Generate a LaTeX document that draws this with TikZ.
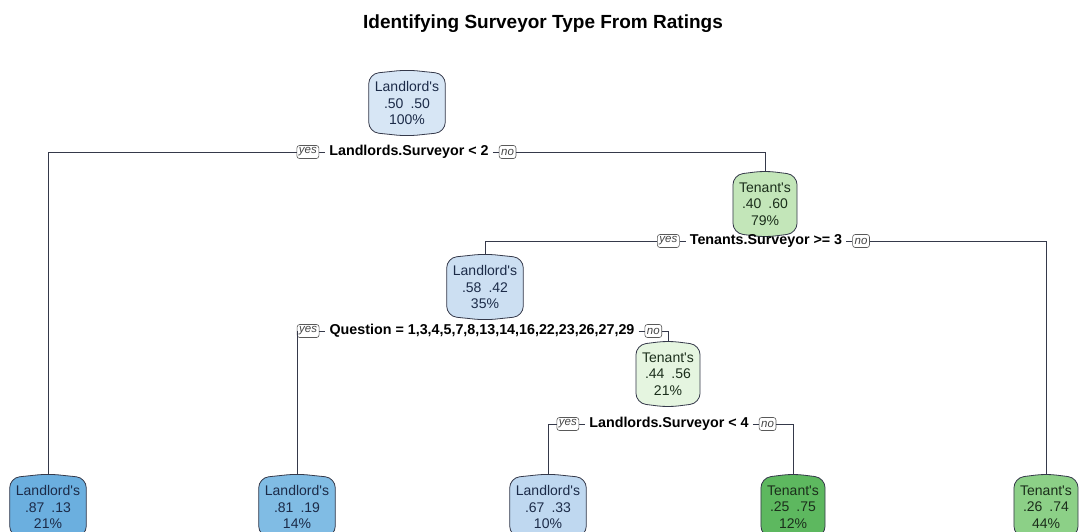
\documentclass[tikz,border=0pt]{standalone}
\usepackage{fontspec}
\setmainfont{Liberation Sans}
% plain family without TeX ligatures, so ' stays a straight quote
\newfontfamily\arial{Liberation Sans}
\usetikzlibrary{calc,positioning,backgrounds}

% fill colours of the boxes
\definecolor{lA}{HTML}{D7E6F5}
\definecolor{lB}{HTML}{CCDFF2}
\definecolor{lC}{HTML}{BFD8F0}
\definecolor{lD}{HTML}{80BCE4}
\definecolor{lE}{HTML}{6BAFDF}
\definecolor{tA}{HTML}{C3E6B9}
\definecolor{tB}{HTML}{E5F5E0}
\definecolor{tC}{HTML}{5DB85F}
\definecolor{tD}{HTML}{8CD087}
\definecolor{ink}{HTML}{1C2B48}
\definecolor{gink}{HTML}{1B2E1B}
\definecolor{edge}{HTML}{35394A}

\tikzset{
  boxtext/.style={align=center, inner xsep=6pt, minimum height=58pt,
    font=\arial\fontsize{14}{16.5}\selectfont},
  boxline/.style={draw=edge, line width=0.8pt, rounded corners=10pt},
  splitlab/.style={inner xsep=4pt, inner ysep=1pt,
    font=\arial\fontsize{14.3}{16}\selectfont\bfseries},
  yesno/.style={draw=gray!70!black, rounded corners=2.5pt, inner xsep=2pt,
    inner ysep=1.5pt, text=gray!55!black, line width=0.6pt,
    minimum height=13pt,
    font=\arial\fontsize{11.5}{12}\selectfont\itshape},
  conn/.style={draw=edge, line width=0.7pt},
}

% \treebox{name}{position}{fill}{text colour}{text}
\newcommand\treebox[5]{%
  \node[boxtext, text=#4] (#1) at (#2) {#5};
  \begin{scope}[on background layer]
    \draw[boxline, fill=#3]
      (#1.west) -- (#1.north west) -- ($(#1.north)+(0pt,4pt)$)
      -- (#1.north east) -- (#1.south east) -- ($(#1.south)+(0pt,-4pt)$)
      -- (#1.south west) -- cycle;
  \end{scope}
  \coordinate (#1-top) at ($(#1.north)+(0pt,3.6pt)$);}

% \splitrule{name}{position}{label}
\newcommand\splitrule[3]{%
  \node[splitlab] (#1) at (#2) {#3};
  \node[yesno, left=6pt of #1] (#1-yes) {yes};
  \node[yesno, right=6pt of #1] (#1-no) {no};
  \draw[conn] (#1-yes.east) -- (#1.west);
  \draw[conn] (#1.east) -- (#1-no.west);}

\begin{document}
\begin{tikzpicture}[x=1pt,y=-1pt]
  \clip (0,0) rectangle (1081,532);
  \begin{scope}[on background layer]
    \fill[white] (0,0) rectangle (1081,532);
  \end{scope}

  \node[font=\arial\fontsize{19}{22}\selectfont\bfseries] (title) at (543,24)
    {Identifying Surveyor Type From Ratings};

  % inner nodes
  \treebox{root}{407,103}{lA}{ink}{Landlord's\\.50\enspace.50\\100\%}
  \treebox{n3}{765,204}{tA}{gink}{Tenant's\\.40\enspace.60\\79\%}
  \treebox{n6}{485,287}{lB}{ink}{Landlord's\\.58\enspace.42\\35\%}
  \treebox{n13}{668,374}{tB}{gink}{Tenant's\\.44\enspace.56\\21\%}

  % leaves
  \treebox{n2}{48,507}{lE}{ink}{Landlord's\\.87\enspace.13\\21\%}
  \treebox{n12}{297,507}{lD}{ink}{Landlord's\\.81\enspace.19\\14\%}
  \treebox{n26}{548,507}{lC}{ink}{Landlord's\\.67\enspace.33\\10\%}
  \treebox{n27}{793,507}{tC}{gink}{Tenant's\\.25\enspace.75\\12\%}
  \treebox{n7}{1046,507}{tD}{gink}{Tenant's\\.26\enspace.74\\44\%}

  % split rules
  \splitrule{s1}{409,152}{Landlords.Surveyor < 2}
  \splitrule{s3}{766,241}{Tenants.Surveyor >= 3}
  \splitrule{s6}{482,331}{Question = 1,3,4,5,7,8,13,14,16,22,23,26,27,29}
  \splitrule{s13}{669,424}{Landlords.Surveyor < 4}

  % branches
  \draw[conn] (n2-top) |- (s1-yes.west);
  \draw[conn] (s1-no.east) -| (n3-top);
  \draw[conn] (n6-top) |- (s3-yes.west);
  \draw[conn] (s3-no.east) -| (n7-top);
  \draw[conn] (n12-top) |- (s6-yes.west);
  \draw[conn] (s6-no.east) -| (n13-top);
  \draw[conn] (n26-top) |- (s13-yes.west);
  \draw[conn] (s13-no.east) -| (n27-top);
\end{tikzpicture}
\end{document}
